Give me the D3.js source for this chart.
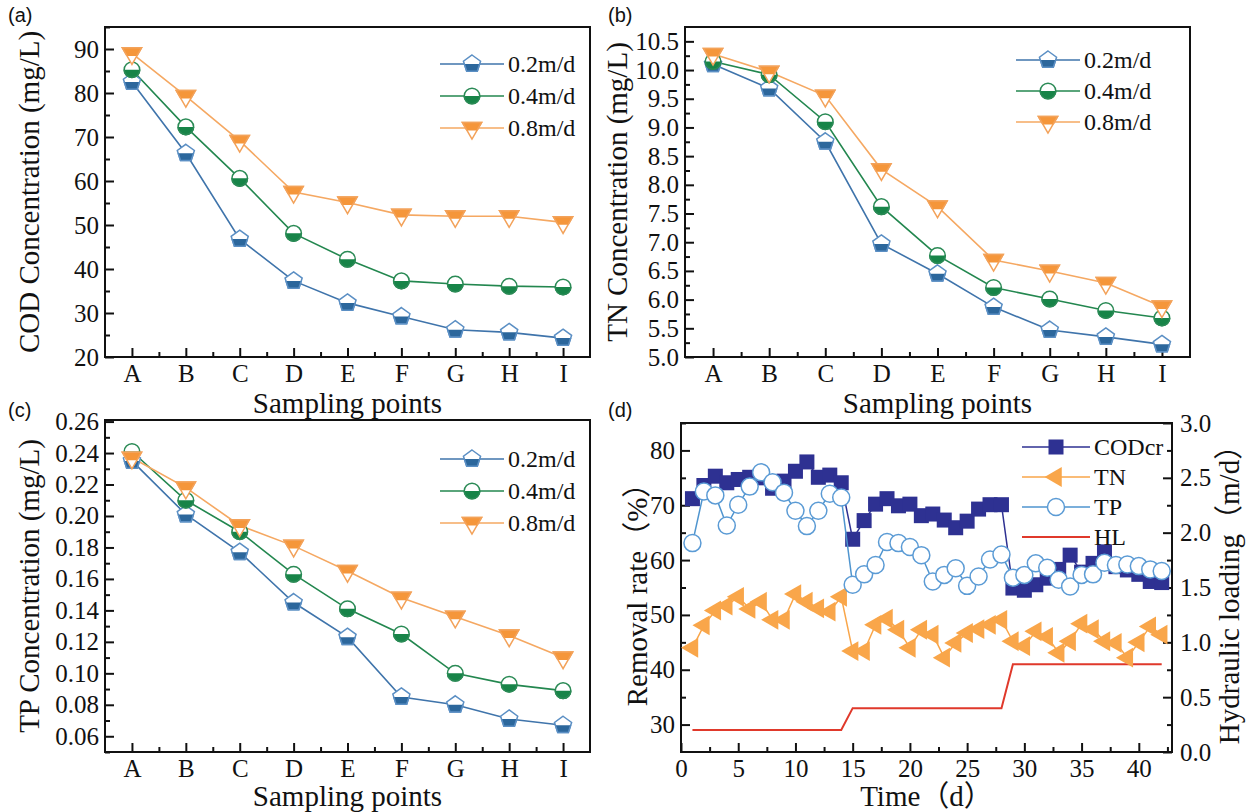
<!DOCTYPE html>
<html>
<head>
<meta charset="utf-8">
<script src="https://cdn.jsdelivr.net/npm/d3@7"></script>
<style>
  body { margin: 0; background: #fff; }
  text { font-family: "Liberation Serif", "Times New Roman", "Noto Sans CJK SC", serif; fill: #111; }
  .letter { font-family: "Liberation Sans", Arial, sans-serif; font-size: 20px; }
</style>
</head>
<body>
<script>
// Sampling points and loading rates
const cats = ["A", "B", "C", "D", "E", "F", "G", "H", "I"];
const rates = ["0.2m/d", "0.4m/d", "0.8m/d"];

// (a) COD concentration
const codLow  = [82.5, 66.3, 46.8, 37.3, 32.3, 29.2, 26.2, 25.6, 24.3];
const codMid  = [85.3, 72.3, 60.6, 48.1, 42.2, 37.3, 36.6, 36.1, 35.9];
const codHigh = [89.0, 79.3, 69.1, 57.5, 55.1, 52.3, 52.0, 52.0, 50.6];

// (b) TN concentration
const tnLow  = [10.10, 9.68, 8.75, 6.97, 6.45, 5.87, 5.47, 5.35, 5.22];
const tnMid  = [10.15, 9.92, 9.10, 7.62, 6.77, 6.21, 6.01, 5.81, 5.68];
const tnHigh = [10.28, 9.97, 9.55, 8.27, 7.62, 6.69, 6.50, 6.29, 5.88];

// (c) TP concentration
const tpLow  = [0.235, 0.201, 0.177, 0.145, 0.123, 0.085, 0.080, 0.071, 0.067];
const tpMid  = [0.241, 0.210, 0.190, 0.163, 0.141, 0.125, 0.100, 0.093, 0.089];
const tpHigh = [0.237, 0.218, 0.194, 0.181, 0.165, 0.148, 0.136, 0.124, 0.110];

// (d) removal rate over time
const days = [1, 2, 3, 4, 5, 6, 7, 8, 9, 10, 11, 12, 13, 14, 15, 16, 17, 18, 19, 20, 21,
              22, 23, 24, 25, 26, 27, 28, 29, 30, 31, 32, 33, 34, 35, 36, 37, 38, 39, 40, 41, 42];
const codcrRemoval = [71.2, 73.6, 75.3, 74.1, 74.7, 75.1, 75.0, 73.1, 74.4, 76.2, 77.9, 75.1, 75.5, 74.1,
                      63.8, 67.2, 70.2, 71.2, 69.9, 70.2, 68.1, 68.4, 67.3, 65.9, 67.1, 69.3, 70.1, 70.1,
                      54.9, 54.5, 55.5, 56.7, 58.3, 60.9, 57.8, 59.4, 61.5, 58.8, 58.2, 57.4, 56.1, 55.9];
const tnRemoval = [44.0, 48.1, 50.8, 51.7, 53.3, 51.1, 52.4, 49.1, 49.1, 53.8, 52.4, 51.2, 50.6, 53.3,
                   43.4, 43.4, 48.2, 49.3, 47.3, 44.0, 47.3, 46.4, 42.2, 44.9, 46.7, 47.4, 48.2, 49.1,
                   45.2, 44.3, 47.0, 46.0, 43.1, 45.2, 48.4, 47.4, 45.2, 44.9, 42.2, 45.0, 47.9, 46.4];
const tpRemoval = [63.1, 72.5, 71.8, 66.3, 70.1, 73.4, 76.0, 74.2, 72.3, 69.0, 66.2, 69.0, 72.1, 71.4,
                   55.5, 57.4, 59.1, 63.3, 63.1, 62.4, 60.9, 56.1, 57.3, 58.5, 55.3, 57.0, 60.1, 61.0,
                   56.8, 57.3, 59.4, 58.6, 56.4, 55.2, 57.3, 57.4, 59.5, 59.1, 59.2, 58.9, 58.3, 58.0];
const hydraulicLoading = [0.2, 0.2, 0.2, 0.2, 0.2, 0.2, 0.2, 0.2, 0.2, 0.2, 0.2, 0.2, 0.2, 0.2,
                          0.4, 0.4, 0.4, 0.4, 0.4, 0.4, 0.4, 0.4, 0.4, 0.4, 0.4, 0.4, 0.4, 0.4,
                          0.8, 0.8, 0.8, 0.8, 0.8, 0.8, 0.8, 0.8, 0.8, 0.8, 0.8, 0.8, 0.8, 0.8];
const seriesD = ["CODcr", "TN", "TP", "HL"];

// tick values
const codTicks = [20, 30, 40, 50, 60, 70, 80, 90];
const tnTicks = [5.0, 5.5, 6.0, 6.5, 7.0, 7.5, 8.0, 8.5, 9.0, 9.5, 10.0, 10.5];
const tpTicks = [0.06, 0.08, 0.10, 0.12, 0.14, 0.16, 0.18, 0.20, 0.22, 0.24, 0.26];
const dayTicks = [0, 5, 10, 15, 20, 25, 30, 35, 40];
const removalTicks = [30, 40, 50, 60, 70, 80];
const loadingTicks = [0.0, 0.5, 1.0, 1.5, 2.0, 2.5, 3.0];

const tickFont = "25px", titleFont = "29px", legendFont = "24px";

// styles per loading rate
const rateStyle = [
  { line: "#3f74ab", fill: "#2c679c", edge: "#5b8fc4", shape: "pentagon" },
  { line: "#23874f", fill: "#178448", edge: "#2a8a55", shape: "circle" },
  { line: "#f5a862", fill: "#f5963a", edge: "#f3a25a", shape: "triangle" }
];

const svg = d3.select("body").append("svg")
    .attr("width", 1250)
    .attr("height", 812);

// clip used for half filled markers (lower half)
const defs = svg.append("defs");
defs.append("clipPath").attr("id", "lowerHalf")
    .append("rect").attr("x", -20).attr("y", 0).attr("width", 40).attr("height", 20);
defs.append("clipPath").attr("id", "lowerTri")
    .append("rect").attr("x", -20).attr("y", -2.5).attr("width", 40).attr("height", 20);

function pentagonPath(r) {
  const pts = [0, 1, 2, 3, 4].map(k => {
    const a = -Math.PI / 2 + k * 2 * Math.PI / 5;
    return [r * Math.cos(a), r * Math.sin(a)];
  });
  return "M" + pts.join("L") + "Z";
}

function shapePath(shape) {
  if (shape === "pentagon") return pentagonPath(9);
  if (shape === "circle") return d3.symbol(d3.symbolCircle, 190)();
  return d3.symbol(d3.symbolTriangle, 160)();
}

function halfMarker(g, cx, cy, st) {
  const m = g.append("g").attr("transform", `translate(${cx},${cy})`);
  const p = shapePath(st.shape);
  const rot = st.shape === "triangle" ? "rotate(180)" : null;
  m.append("path").attr("d", p).attr("transform", rot)
      .attr("fill", "#fff").attr("stroke", st.edge).attr("stroke-width", 1.5);
  m.append("path").attr("d", p).attr("transform", rot)
      .attr("clip-path", st.shape === "triangle" ? "url(#lowerTri)" : "url(#lowerHalf)")
      .attr("fill", st.fill).attr("stroke", st.edge).attr("stroke-width", 1.5);
}

function styleTicks(sel) {
  sel.selectAll(".domain").remove();
  sel.selectAll(".tick line").attr("stroke", "#111").attr("stroke-width", 2);
  sel.selectAll(".tick text").style("font-size", tickFont).attr("fill", "#111")
      .style("font-family", '"Liberation Serif", "Times New Roman", serif');
}

// frame + inward ticks
function drawAxes(g, box, xAxis, xMinor, yAxis, yMinor) {
  g.append("g").attr("transform", `translate(0,${box.bottom})`).call(xMinor);
  g.append("g").attr("transform", `translate(0,${box.bottom})`).call(xAxis);
  g.append("g").attr("transform", `translate(${box.left},0)`).call(yMinor);
  g.append("g").attr("transform", `translate(${box.left},0)`).call(yAxis);
  styleTicks(g);
  g.append("rect")
      .attr("x", box.left).attr("y", box.top)
      .attr("width", box.right - box.left).attr("height", box.bottom - box.top)
      .attr("fill", "none").attr("stroke", "#111").attr("stroke-width", 2);
}

function catPanel(cfg) {
  const g = svg.append("g");
  const box = cfg.box;
  const x = d3.scalePoint().domain(cats).range([box.left, box.right]).padding(0.5);
  const y = d3.scaleLinear().domain(cfg.domain).range([box.bottom, box.top]);
  const step = x.step();

  const xAxis = d3.axisBottom(x).tickSizeInner(-9).tickSizeOuter(0).tickPadding(7);
  const xMinor = d3.axisBottom(d3.scaleLinear().domain([box.left, box.right]).range([box.left, box.right]))
      .tickValues(cats.slice(1).map(c => x(c) - step / 2))
      .tickSizeInner(-5).tickSizeOuter(0).tickFormat("");
  const yAxis = d3.axisLeft(y).tickValues(cfg.ticks).tickFormat(d3.format(cfg.fmt))
      .tickSizeInner(-9).tickSizeOuter(0).tickPadding(6);
  const yMinor = d3.axisLeft(y).tickValues(cfg.minor).tickSizeInner(-5).tickSizeOuter(0).tickFormat("");
  drawAxes(g, box, xAxis, xMinor, yAxis, yMinor);

  const line = d3.line().x((d, i) => x(cats[i])).y(d => y(d));
  cfg.series.forEach((vals, k) => {
    g.append("path").datum(vals).attr("d", line)
        .attr("fill", "none").attr("stroke", rateStyle[k].line).attr("stroke-width", 1.6);
  });
  cfg.series.forEach((vals, k) => {
    vals.forEach((v, i) => halfMarker(g, x(cats[i]), y(v), rateStyle[k]));
  });

  // legend
  rates.forEach((r, k) => {
    const ly = cfg.legend.y + k * cfg.legend.dy;
    g.append("line").attr("x1", cfg.legend.x).attr("x2", cfg.legend.x + 64)
        .attr("y1", ly).attr("y2", ly).attr("stroke", rateStyle[k].line).attr("stroke-width", 1.6);
    halfMarker(g, cfg.legend.x + 32, ly, rateStyle[k]);
    g.append("text").attr("x", cfg.legend.x + 68).attr("y", ly).attr("dy", "0.35em")
        .style("font-size", legendFont).text(r);
  });

  // titles
  g.append("text")
      .attr("transform", `translate(${cfg.yTitleX},${(box.top + box.bottom) / 2}) rotate(-90)`)
      .attr("text-anchor", "middle").attr("dy", "0.35em")
      .style("font-size", titleFont).text(cfg.yTitle);
  g.append("text")
      .attr("x", (box.left + box.right) / 2).attr("y", box.bottom + cfg.xTitleDy)
      .attr("text-anchor", "middle").style("font-size", titleFont).text("Sampling points");
  g.append("text").attr("class", "letter").attr("x", cfg.letter[0]).attr("y", cfg.letter[1]).text(cfg.label);
}

catPanel({
  box: { left: 105, right: 590, top: 27, bottom: 357 },
  domain: [20, 95], ticks: codTicks, fmt: "d",
  minor: [25, 35, 45, 55, 65, 75, 85, 95],
  series: [codLow, codMid, codHigh],
  legend: { x: 440, y: 64, dy: 32 },
  yTitle: "COD Concentration (mg/L)", yTitleX: 29, xTitleDy: 56,
  label: "(a)", letter: [8, 22]
});

catPanel({
  box: { left: 685, right: 1190, top: 27, bottom: 357 },
  domain: [5, 10.75], ticks: tnTicks, fmt: ".1f",
  minor: [5.25, 5.75, 6.25, 6.75, 7.25, 7.75, 8.25, 8.75, 9.25, 9.75, 10.25],
  series: [tnLow, tnMid, tnHigh],
  legend: { x: 1016, y: 60, dy: 31 },
  yTitle: "TN Concentration (mg/L)", yTitleX: 617, xTitleDy: 56,
  label: "(b)", letter: [608, 22]
});

catPanel({
  box: { left: 105, right: 590, top: 420, bottom: 752 },
  domain: [0.05, 0.261], ticks: tpTicks, fmt: ".2f",
  minor: [0.05, 0.07, 0.09, 0.11, 0.13, 0.15, 0.17, 0.19, 0.21, 0.23, 0.25],
  series: [tpLow, tpMid, tpHigh],
  legend: { x: 440, y: 459, dy: 32 },
  yTitle: "TP Concentration (mg/L)", yTitleX: 29, xTitleDy: 54,
  label: "(c)", letter: [8, 417]
});

// ---- panel (d) ----
(function () {
  const g = svg.append("g");
  const box = { left: 681, right: 1172, top: 423, bottom: 752 };
  const x = d3.scaleLinear().domain([0, 42.9]).range([box.left, box.right]);
  const y = d3.scaleLinear().domain([25, 85]).range([box.bottom, box.top]);
  const y2 = d3.scaleLinear().domain([0, 3]).range([box.bottom, box.top]);

  const xAxis = d3.axisBottom(x).tickValues(dayTicks).tickSizeInner(-9).tickSizeOuter(0).tickPadding(7);
  const xMinor = d3.axisBottom(x).tickValues([2.5, 7.5, 12.5, 17.5, 22.5, 27.5, 32.5, 37.5, 42.5])
      .tickSizeInner(-5).tickSizeOuter(0).tickFormat("");
  const yAxis = d3.axisLeft(y).tickValues(removalTicks).tickSizeInner(-9).tickSizeOuter(0).tickPadding(6);
  const yMinor = d3.axisLeft(y).tickValues([35, 45, 55, 65, 75, 85]).tickSizeInner(-5).tickSizeOuter(0).tickFormat("");
  drawAxes(g, box, xAxis, xMinor, yAxis, yMinor);

  const r = g.append("g").attr("transform", `translate(${box.right},0)`);
  r.append("g").call(d3.axisRight(y2).tickValues([0.25, 0.75, 1.25, 1.75, 2.25, 2.75])
      .tickSizeInner(-5).tickSizeOuter(0).tickFormat(""));
  r.append("g").call(d3.axisRight(y2).tickValues(loadingTicks).tickFormat(d3.format(".1f"))
      .tickSizeInner(-9).tickSizeOuter(0).tickPadding(8));
  styleTicks(r);

  const colors = { cod: "#2e3192", tn: "#f9a64a", tp: "#5b9bd5", tpLine: "#4f95cf", hl: "#e0392b" };
  const line = yy => d3.line().x((d, i) => x(days[i])).y(d => yy(d));

  // HL
  g.append("path").datum(hydraulicLoading).attr("d", line(y2))
      .attr("fill", "none").attr("stroke", colors.hl).attr("stroke-width", 2);

  // TN
  g.append("path").datum(tnRemoval).attr("d", line(y))
      .attr("fill", "none").attr("stroke", colors.tn).attr("stroke-width", 1.5);
  const tri = d3.symbol(d3.symbolTriangle, 170)();
  g.selectAll(".tn").data(tnRemoval).enter().append("path")
      .attr("d", tri)
      .attr("transform", (d, i) => `translate(${x(days[i])},${y(d)}) rotate(-90)`)
      .attr("fill", colors.tn);

  // CODcr
  g.append("path").datum(codcrRemoval).attr("d", line(y))
      .attr("fill", "none").attr("stroke", colors.cod).attr("stroke-width", 1.5);
  g.selectAll(".cod").data(codcrRemoval).enter().append("rect")
      .attr("x", (d, i) => x(days[i]) - 7.5).attr("y", d => y(d) - 7.5)
      .attr("width", 15).attr("height", 15).attr("fill", colors.cod);

  // TP
  g.append("path").datum(tpRemoval).attr("d", line(y))
      .attr("fill", "none").attr("stroke", colors.tpLine).attr("stroke-width", 1.5);
  g.selectAll(".tp").data(tpRemoval).enter().append("circle")
      .attr("cx", (d, i) => x(days[i])).attr("cy", d => y(d)).attr("r", 8.5)
      .attr("fill", "#fff").attr("stroke", colors.tp).attr("stroke-width", 1.5);

  // legend
  const lx = 1022, ly0 = 447, ldy = 30;
  const legColors = [colors.cod, colors.tn, colors.tpLine, colors.hl];
  seriesD.forEach((name, k) => {
    const ly = ly0 + k * ldy;
    g.append("line").attr("x1", lx).attr("x2", lx + 68).attr("y1", ly).attr("y2", ly)
        .attr("stroke", legColors[k]).attr("stroke-width", k === 3 ? 2 : 1.5);
    const mx = lx + 34;
    if (k === 0) g.append("rect").attr("x", mx - 7.5).attr("y", ly - 7.5).attr("width", 15).attr("height", 15).attr("fill", colors.cod);
    if (k === 1) g.append("path").attr("d", tri).attr("transform", `translate(${mx},${ly}) rotate(-90)`).attr("fill", colors.tn);
    if (k === 2) g.append("circle").attr("cx", mx).attr("cy", ly).attr("r", 8.5).attr("fill", "#fff").attr("stroke", colors.tp).attr("stroke-width", 1.5);
    g.append("text").attr("x", lx + 72).attr("y", ly).attr("dy", "0.35em").style("font-size", legendFont).text(name);
  });

  // titles
  g.append("text")
      .attr("transform", `translate(637,${(box.top + box.bottom) / 2}) rotate(-90)`)
      .attr("text-anchor", "middle").attr("dy", "0.35em")
      .style("font-size", titleFont).text("Removal rate（%）");
  g.append("text")
      .attr("transform", `translate(1229,${(box.top + box.bottom) / 2}) rotate(-90)`)
      .attr("text-anchor", "middle").attr("dy", "0.35em")
      .style("font-size", titleFont).text("Hydraulic loading（m/d）");
  g.append("text")
      .attr("x", (box.left + box.right) / 2).attr("y", box.bottom + 54)
      .attr("text-anchor", "middle").style("font-size", titleFont).text("Time（d）");
  g.append("text").attr("class", "letter").attr("x", 608).attr("y", 417).text("(d)");
})();
</script>
</body>
</html>
